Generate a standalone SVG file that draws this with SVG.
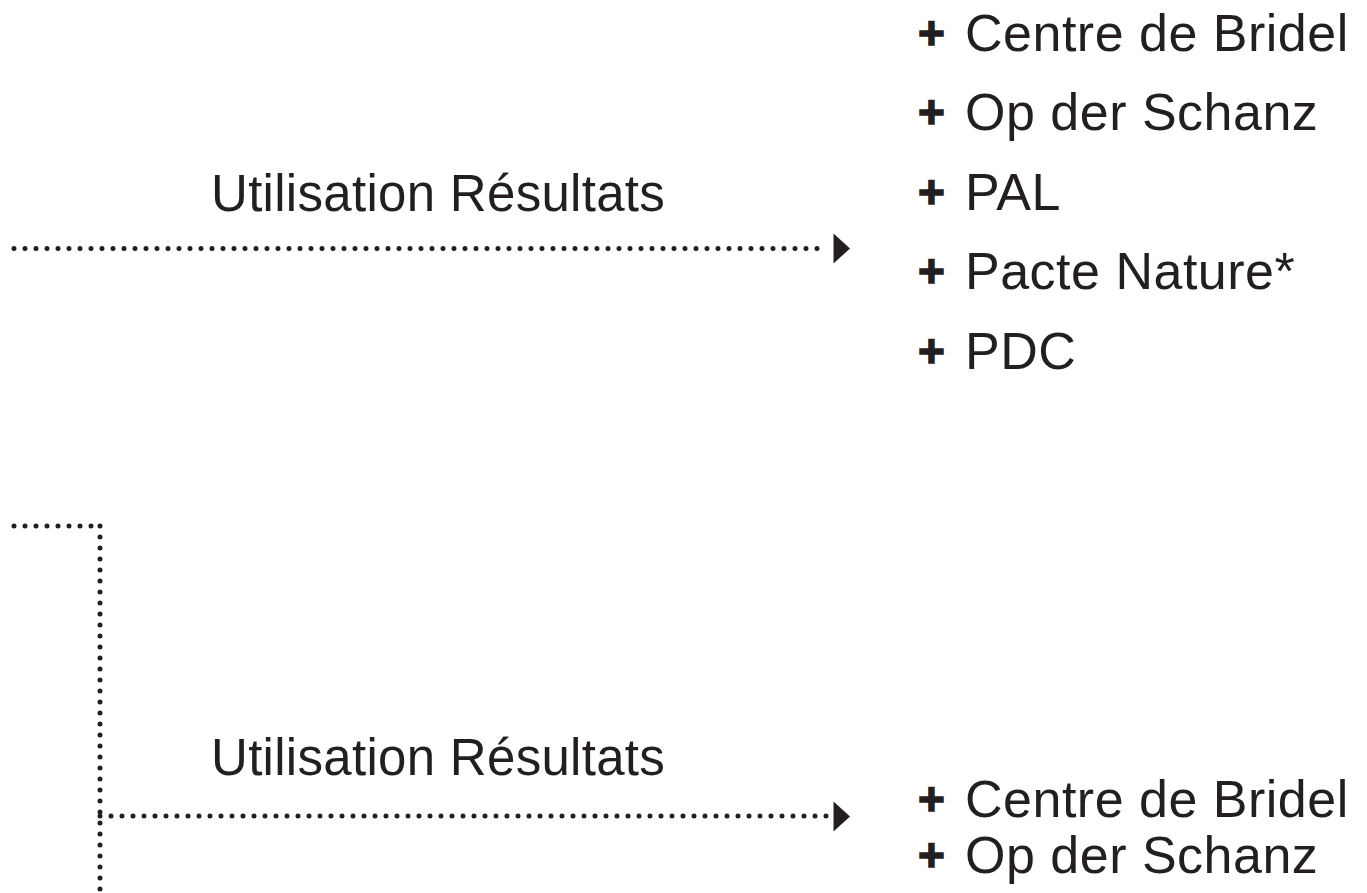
<svg xmlns="http://www.w3.org/2000/svg" width="1367" height="893" viewBox="0 0 1367 893">
<style>
  .lbl { font-family: "Liberation Sans", Arial, sans-serif; font-size: 51px; letter-spacing: 0.3px; fill: #231f20; }
  .item { font-family: "Liberation Sans", Arial, sans-serif; font-size: 52px; letter-spacing: 0.5px; fill: #231f20; }
  .plus { font-weight: bold; font-size: 46px; stroke: #231f20; stroke-width: 1.4px; }
  .dot { fill: none; stroke: #231f20; stroke-width: 5; stroke-linecap: round; stroke-dasharray: 0 11; }
  .head { fill: #231f20; }
</style>
<rect width="1367" height="893" fill="#ffffff"/>
<g id="connectors">
  <line class="dot" x1="14" y1="248.5" x2="828" y2="248.5"/>
  <polygon class="head" points="833.5,233.5 850,248.5 833.5,263.5"/>
  <line class="dot" x1="14" y1="526" x2="100" y2="526"/>
  <line class="dot" x1="100" y1="526" x2="100" y2="893"/>
  <line class="dot" x1="100" y1="816" x2="828" y2="816"/>
  <polygon class="head" points="833.5,801.5 850,816.5 833.5,831.5"/>
</g>
<g id="label-top"><text class="lbl" x="211" y="211">Utilisation Résultats</text></g>
<g id="label-bottom"><text class="lbl" x="211" y="775">Utilisation Résultats</text></g>
<g id="list-top">
  <text class="item" y="51"><tspan class="plus" x="918" dy="-2">+</tspan><tspan x="965" dy="2">Centre de Bridel</tspan></text>
  <text class="item" y="130"><tspan class="plus" x="918" dy="-2">+</tspan><tspan x="965" dy="2">Op der Schanz</tspan></text>
  <text class="item" y="210"><tspan class="plus" x="918" dy="-2">+</tspan><tspan x="965" dy="2">PAL</tspan></text>
  <text class="item" y="289"><tspan class="plus" x="918" dy="-2">+</tspan><tspan x="965" dy="2">Pacte Nature*</tspan></text>
  <text class="item" y="369"><tspan class="plus" x="918" dy="-2">+</tspan><tspan x="965" dy="2">PDC</tspan></text>
</g>
<g id="list-bottom">
  <text class="item" y="817"><tspan class="plus" x="918" dy="-2">+</tspan><tspan x="965" dy="2">Centre de Bridel</tspan></text>
  <text class="item" y="873"><tspan class="plus" x="918" dy="-2">+</tspan><tspan x="965" dy="2">Op der Schanz</tspan></text>
</g>
</svg>
